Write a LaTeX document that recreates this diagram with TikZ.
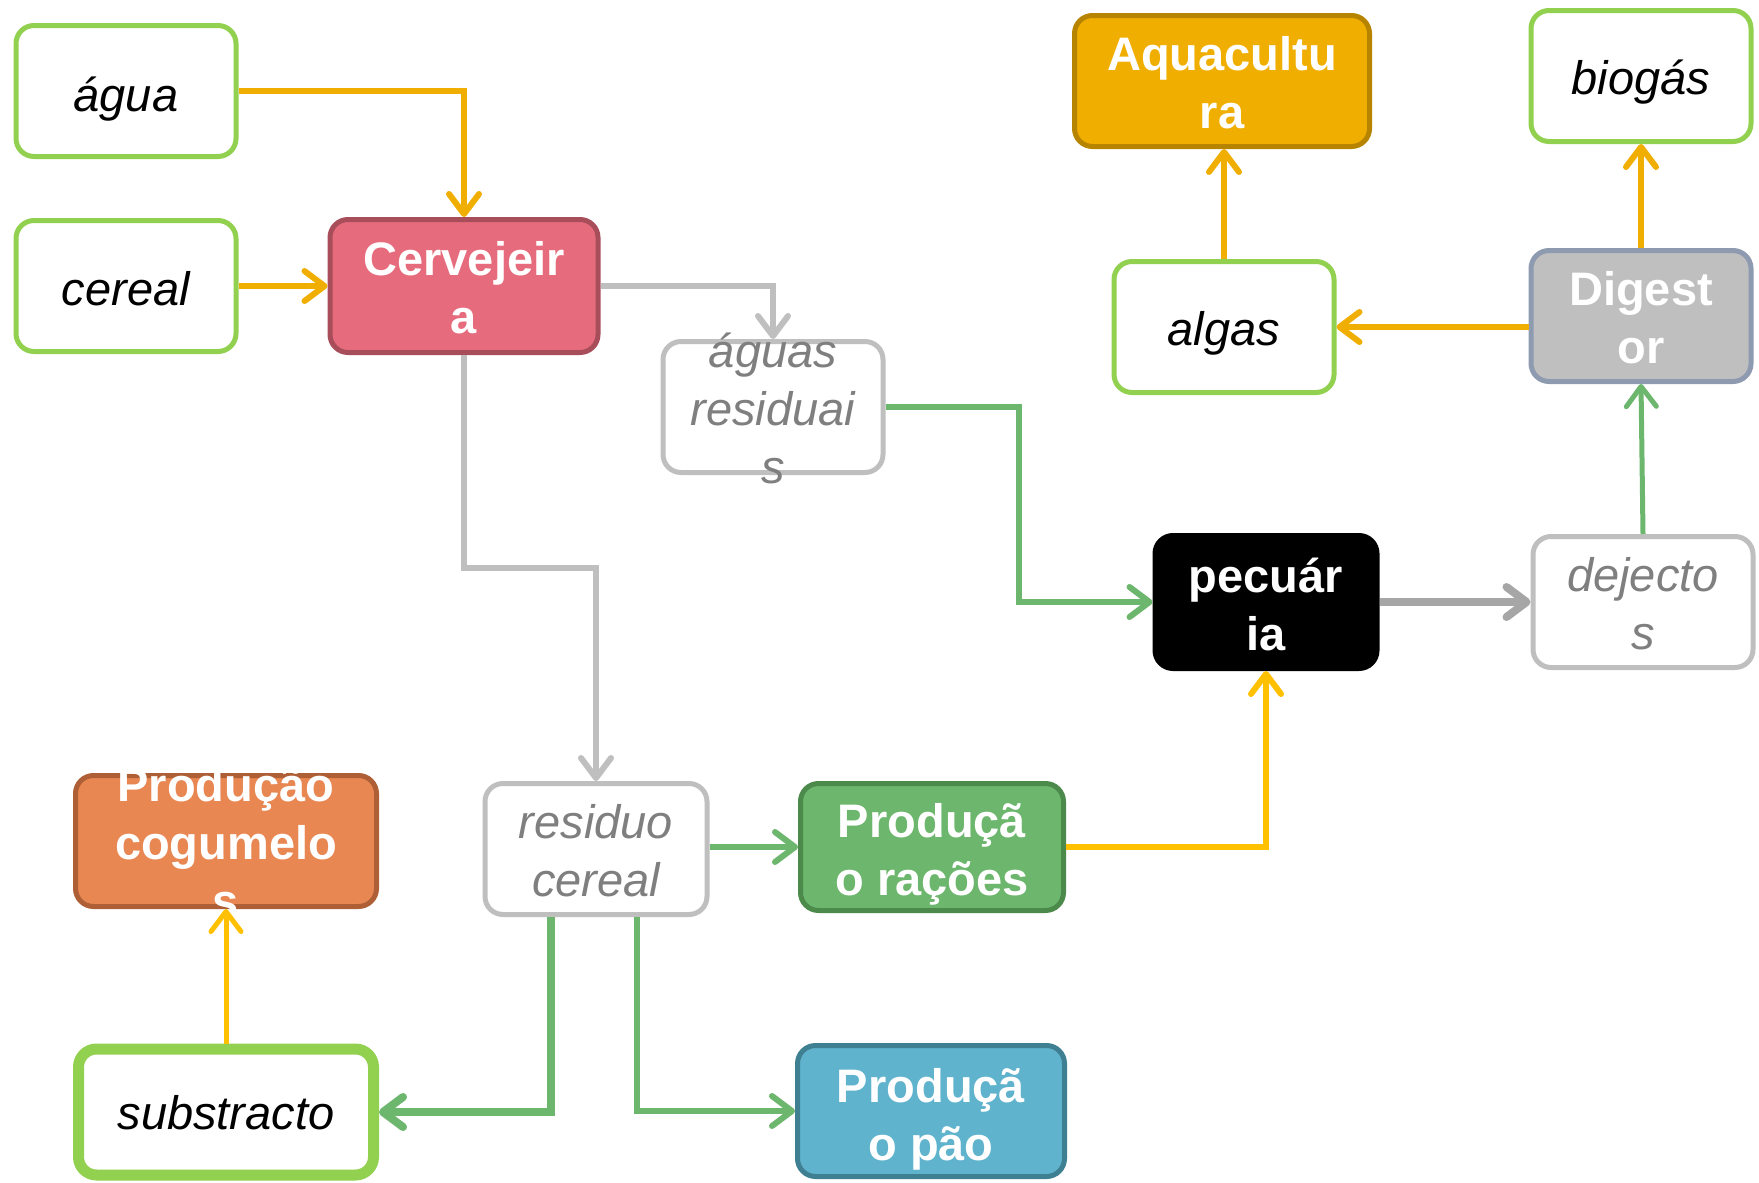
\documentclass[tikz,border=0pt]{standalone}
\usepackage{fontspec}
\setmainfont{Liberation Sans}
\usetikzlibrary{arrows.meta,calc}
\definecolor{lgreen}{HTML}{92D050}
\definecolor{cervF}{HTML}{E66C7D}
\definecolor{cervD}{HTML}{A84D5A}
\definecolor{aquaF}{HTML}{F0AE00}
\definecolor{aquaD}{HTML}{B78400}
\definecolor{digF}{HTML}{BFBFBF}
\definecolor{digD}{HTML}{8E9AB0}
\definecolor{cogF}{HTML}{E88752}
\definecolor{cogD}{HTML}{AF5F36}
\definecolor{racF}{HTML}{6DB66D}
\definecolor{racD}{HTML}{4C8A4C}
\definecolor{paoF}{HTML}{5FB3CC}
\definecolor{paoD}{HTML}{3F7F92}
\definecolor{lgray}{HTML}{BFBFBF}
\definecolor{dgray}{HTML}{A6A6A6}
\definecolor{tgray}{HTML}{7F7F7F}
\definecolor{lorange}{HTML}{F0AE00}
\definecolor{lyellow}{HTML}{FFC000}
\definecolor{lgr}{HTML}{6DB66D}
\begin{document}
\begin{tikzpicture}[x=1pt,y=-1pt,
  bx/.style={rectangle,rounded corners=18pt,line width=5pt,inner sep=0pt,minimum width=220pt,minimum height=131pt},
  wb/.style={bx,draw=lgreen,fill=white},
  gb/.style={bx,draw=lgray,fill=white},
  tx/.style={align=center,inner sep=0pt,font=\fontsize{47}{58}\selectfont},
  ti/.style={tx,font=\fontsize{47}{58}\selectfont\itshape},
  tb/.style={tx,font=\fontsize{47}{58}\selectfont\bfseries,text=white},
  dy/.style={yshift=-#1pt},
  ar/.style={line width=6pt,-{Straight Barb[length=20pt,width=30pt,round]}},
]
\useasboundingbox (0,0) rectangle (1759,1183);
% boxes
\node[wb] (agua) at (126,91) {};
\node[ti,dy=8] (aguat) at (agua) {água};
\node[wb] (cereal) at (126,286) {};
\node[ti,dy=3] (cerealt) at (cereal) {cereal};
\node[bx,draw=cervD,fill=cervF,minimum width=268pt,minimum height=133pt] (cerv) at (464,286) {};
\node[tb,dy=2] (cervt) at (cerv) {Cervejeir\\a};
\node[gb] (ares) at (773,407) {};
\node[ti,text=tgray,dy=1] (arest) at (ares) {águas\\residuai\\s};
\node[bx,draw=aquaD,fill=aquaF,minimum width=295pt] (aqua) at (1222,81) {};
\node[tb,dy=2] (aquat) at (aqua) {Aquacultu\\ra};
\node[wb] (bio) at (1641,76) {};
\node[ti,dy=6] (biot) at (bio) {biogás};
\node[wb] (algas) at (1224,327) {};
\node[ti,dy=6] (algast) at (algas) {algas};
\node[bx,draw=digD,fill=digF] (dig) at (1641,316) {};
\node[tb,dy=2] (digt) at (dig) {Digest\\or};
\node[bx,draw=black,fill=black,minimum width=222pt,minimum height=133pt] (pec) at (1266,602) {};
\node[tb,dy=2] (pect) at (pec) {pecuár\\ia};
\node[gb] (dej) at (1643,602) {};
\node[ti,text=tgray,dy=2] (dejt) at (dej) {dejecto\\s};
\node[bx,draw=cogD,fill=cogF,minimum width=301pt] (cog) at (226,841) {};
\node[tb,dy=2] (cogt) at (cog) {Produção\\cogumelo\\s};
\node[gb,minimum width=222pt] (res) at (596,849) {};
\node[ti,text=tgray,dy=2] (rest) at (res) {residuo\\cereal};
\node[bx,draw=racD,fill=racF,minimum width=263pt,minimum height=127pt] (rac) at (932,847) {};
\node[tb,dy=7] (ract) at (rac) {Produçã\\o rações};
\node[bx,draw=lgreen,fill=white,line width=11pt,minimum width=295pt,minimum height=126pt] (subs) at (226,1112) {};
\node[ti,dy=1] (subst) at (subs) {substracto};
\node[bx,draw=paoD,fill=paoF,minimum width=267pt] (pao) at (931,1111) {};
\node[tb,dy=8] (paot) at (pao) {Produçã\\o pão};
% connectors
\draw[ar,lorange] (agua.east) -| (cerv.north);
\draw[ar,lorange] (cereal.east) -- (cerv.west);
\draw[ar,lgray] (cerv.east) -| (ares.north);
\draw[ar,lgray] (cerv.south) |- ($(cerv.south)!.5!(res.north)$) -| (res.north);
\draw[ar,lgr] (ares.east) -| ($(ares.east)!.5!(pec.west)$) |- (pec.west);
\draw[ar,dgray,line width=8pt] (pec.east) -- (dej.west);
\draw[ar,lgr,line width=5pt] (dej.north) -- (dig.south);
\draw[ar,lorange] (dig.north) -- (bio.south);
\draw[ar,lorange] (algas.east -| dig.west) -- (algas.east);
\draw[ar,lorange] (algas.north) -- (algas.north |- aqua.south);
\draw[ar,lgr] (res.east |- rac.west) -- (rac.west);
\draw[ar,lyellow] (rac.east) -| (pec.south);
\draw[ar,lgr,line width=8pt] ([xshift=-45pt]res.south) |- (subs.east);
\draw[ar,lgr] ([xshift=41pt]res.south) |- (pao.west);
\draw[ar,lyellow,line width=5pt] (subs.north) -- (cog.south);
\end{tikzpicture}
\end{document}
